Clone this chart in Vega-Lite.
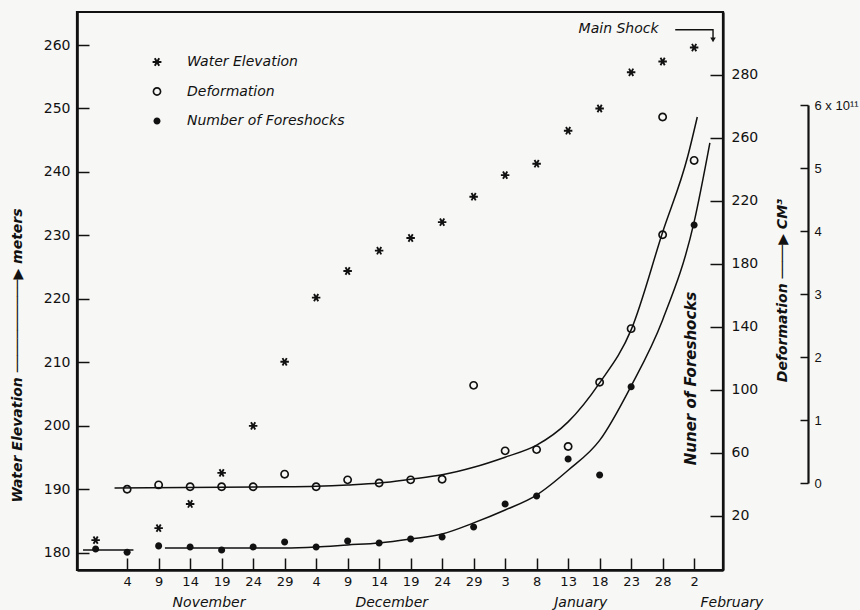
{
  "$schema": "https://vega.github.io/schema/vega-lite/v6.json",
  "autosize": {"type": "none"},
  "padding": {"left": 77, "top": 12, "right": 137, "bottom": 40},
  "width": 646,
  "height": 558,
  "background": "#f7f7f5",
  "config": {
    "view": {"stroke": "#111", "strokeWidth": 2.2},
    "font": "DejaVu Sans",
    "axis": {
      "grid": false,
      "labelOverlap": false,
      "domainColor": "#111",
      "domainWidth": 2.2,
      "tickColor": "#111",
      "tickWidth": 1.5,
      "labelColor": "#111",
      "titleColor": "#111",
      "labelFont": "DejaVu Sans",
      "labelFontSize": 14,
      "titleFont": "DejaVu Sans",
      "titleFontStyle": "italic",
      "titleFontWeight": "bold",
      "titleFontSize": 14
    }
  },
  "datasets": {
    "water": [
      {"date": "1965-10-30", "elev": 182.0},
      {"date": "1965-11-09", "elev": 183.9},
      {"date": "1965-11-14", "elev": 187.7},
      {"date": "1965-11-19", "elev": 192.6},
      {"date": "1965-11-24", "elev": 200.0},
      {"date": "1965-11-29", "elev": 210.1},
      {"date": "1965-12-04", "elev": 220.2},
      {"date": "1965-12-09", "elev": 224.4},
      {"date": "1965-12-14", "elev": 227.6},
      {"date": "1965-12-19", "elev": 229.6},
      {"date": "1965-12-24", "elev": 232.1},
      {"date": "1965-12-29", "elev": 236.1},
      {"date": "1966-01-03", "elev": 239.5},
      {"date": "1966-01-08", "elev": 241.3},
      {"date": "1966-01-13", "elev": 246.5},
      {"date": "1966-01-18", "elev": 250.0},
      {"date": "1966-01-23", "elev": 255.7},
      {"date": "1966-01-28", "elev": 257.4},
      {"date": "1966-02-02", "elev": 259.6}
    ],
    "months": [
      {"date": "1965-11-17", "elev": 172.1, "month": "November"},
      {"date": "1965-12-16", "elev": 172.1, "month": "December"},
      {"date": "1966-01-15", "elev": 172.1, "month": "January"},
      {"date": "1966-02-08", "elev": 172.1, "month": "February"}
    ],
    "mainshock": [
      {"date": "1966-01-28", "elev": 262.5, "label": "Main Shock"}
    ],
    "arrow": [
      {"date": "1966-01-30", "elev": 262.4, "k": 1},
      {"date": "1966-02-05", "elev": 262.4, "k": 2},
      {"date": "1966-02-05", "elev": 261.0, "k": 3}
    ],
    "arrowhead": [
      {"date": "1966-02-05", "elev": 260.8}
    ],
    "deformation": [
      {"date": "1965-11-04", "def": -0.1},
      {"date": "1965-11-09", "def": -0.03},
      {"date": "1965-11-14", "def": -0.06},
      {"date": "1965-11-19", "def": -0.06},
      {"date": "1965-11-24", "def": -0.06},
      {"date": "1965-11-29", "def": 0.14},
      {"date": "1965-12-04", "def": -0.06},
      {"date": "1965-12-09", "def": 0.05},
      {"date": "1965-12-14", "def": 0.0},
      {"date": "1965-12-19", "def": 0.05},
      {"date": "1965-12-24", "def": 0.06},
      {"date": "1965-12-29", "def": 1.55},
      {"date": "1966-01-03", "def": 0.51},
      {"date": "1966-01-08", "def": 0.53},
      {"date": "1966-01-13", "def": 0.58},
      {"date": "1966-01-18", "def": 1.6},
      {"date": "1966-01-23", "def": 2.45},
      {"date": "1966-01-28", "def": 3.94},
      {"date": "1966-01-28", "def": 5.81},
      {"date": "1966-02-02", "def": 5.12}
    ],
    "defcurve": [
      {"date": "1965-11-02", "def": -0.08},
      {"date": "1965-11-29", "def": -0.06},
      {"date": "1965-12-04", "def": -0.05},
      {"date": "1965-12-09", "def": -0.03},
      {"date": "1965-12-14", "def": 0.0},
      {"date": "1965-12-19", "def": 0.06},
      {"date": "1965-12-24", "def": 0.13},
      {"date": "1965-12-29", "def": 0.25},
      {"date": "1966-01-03", "def": 0.41},
      {"date": "1966-01-08", "def": 0.6},
      {"date": "1966-01-13", "def": 0.97},
      {"date": "1966-01-18", "def": 1.59},
      {"date": "1966-01-23", "def": 2.43},
      {"date": "1966-01-28", "def": 3.98},
      {"date": "1966-02-01", "def": 5.19},
      {"date": "1966-02-02T12:00:00Z", "def": 5.81}
    ],
    "foreshocks": [
      {"date": "1965-10-30", "count": -1},
      {"date": "1965-11-04", "count": -3},
      {"date": "1965-11-09", "count": 1},
      {"date": "1965-11-14", "count": 0.3},
      {"date": "1965-11-19", "count": -1.6},
      {"date": "1965-11-24", "count": 0.3},
      {"date": "1965-11-29", "count": 3.5},
      {"date": "1965-12-04", "count": 0.3},
      {"date": "1965-12-09", "count": 4.1},
      {"date": "1965-12-14", "count": 2.9},
      {"date": "1965-12-19", "count": 5.4},
      {"date": "1965-12-24", "count": 6.7},
      {"date": "1965-12-29", "count": 13},
      {"date": "1966-01-03", "count": 27.6},
      {"date": "1966-01-08", "count": 32.7},
      {"date": "1966-01-13", "count": 56.2},
      {"date": "1966-01-18", "count": 46},
      {"date": "1966-01-23", "count": 102},
      {"date": "1966-02-02", "count": 204.8}
    ],
    "focurve": [
      {"date": "1965-10-28", "count": -1.6, "seg": "a"},
      {"date": "1965-11-05", "count": -1.6, "seg": "a"},
      {"date": "1965-11-10", "count": -0.3, "seg": "b"},
      {"date": "1965-11-29", "count": -0.3, "seg": "b"},
      {"date": "1965-12-04", "count": 0.3, "seg": "b"},
      {"date": "1965-12-09", "count": 1.6, "seg": "b"},
      {"date": "1965-12-14", "count": 2.9, "seg": "b"},
      {"date": "1965-12-19", "count": 5.4, "seg": "b"},
      {"date": "1965-12-24", "count": 8.6, "seg": "b"},
      {"date": "1965-12-29", "count": 15.6, "seg": "b"},
      {"date": "1966-01-03", "count": 23.8, "seg": "b"},
      {"date": "1966-01-08", "count": 33.3, "seg": "b"},
      {"date": "1966-01-13", "count": 49, "seg": "b"},
      {"date": "1966-01-18", "count": 68, "seg": "b"},
      {"date": "1966-01-23", "count": 102.5, "seg": "b"},
      {"date": "1966-01-28", "count": 144.5, "seg": "b"},
      {"date": "1966-02-02", "count": 206.7, "seg": "b"},
      {"date": "1966-02-04T12:00:00Z", "count": 256.9, "seg": "b"}
    ]
  },
  "encoding": {
    "x": {
      "field": "date", "type": "temporal",
      "scale": {"type": "utc", "domain": [
        {"year": 1965, "month": 10, "date": 27, "hours": 1, "utc": true},
        {"year": 1966, "month": 2, "date": 6, "hours": 14, "utc": true}
      ]},
      "axis": {
        "orient": "bottom",
        "title": null,
        "values": [
          {"year": 1965, "month": 11, "date": 4, "utc": true},
          {"year": 1965, "month": 11, "date": 9, "utc": true},
          {"year": 1965, "month": 11, "date": 14, "utc": true},
          {"year": 1965, "month": 11, "date": 19, "utc": true},
          {"year": 1965, "month": 11, "date": 24, "utc": true},
          {"year": 1965, "month": 11, "date": 29, "utc": true},
          {"year": 1965, "month": 12, "date": 4, "utc": true},
          {"year": 1965, "month": 12, "date": 9, "utc": true},
          {"year": 1965, "month": 12, "date": 14, "utc": true},
          {"year": 1965, "month": 12, "date": 19, "utc": true},
          {"year": 1965, "month": 12, "date": 24, "utc": true},
          {"year": 1965, "month": 12, "date": 29, "utc": true},
          {"year": 1966, "month": 1, "date": 3, "utc": true},
          {"year": 1966, "month": 1, "date": 8, "utc": true},
          {"year": 1966, "month": 1, "date": 13, "utc": true},
          {"year": 1966, "month": 1, "date": 18, "utc": true},
          {"year": 1966, "month": 1, "date": 23, "utc": true},
          {"year": 1966, "month": 1, "date": 28, "utc": true},
          {"year": 1966, "month": 2, "date": 2, "utc": true}
        ],
        "format": "%-d",
        "labelOverlap": false,
        "tickSize": -12,
        "labelPadding": 17,
        "labelFontSize": 13,
        "domainWidth": 2.5
      }
    }
  },
  "layer": [
    {
      "layer": [
        {
          "data": {"name": "water"},
          "mark": {"type": "point", "filled": true, "color": "#111", "strokeWidth": 0, "size": 72, "opacity": 1},
          "encoding": {
            "y": {
              "field": "elev", "type": "quantitative",
              "scale": {"domain": [177.3, 265.2], "nice": false, "zero": false},
              "axis": {
                "orient": "left",
                "values": [180, 190, 200, 210, 220, 230, 240, 250, 260],
                "tickSize": -12,
                "labelPadding": 19,
                "title": "Water   Elevation  ───────────▶   meters",
                "titleAngle": -90,
                "titleX": -60,
                "titleY": 343,
                "titleAlign": "center",
                "titleBaseline": "middle",
                "domainWidth": 2.6
              }
            },
            "shape": {
              "datum": "Water Elevation",
              "scale": {
                "domain": ["Water Elevation", "Deformation", "Number of Foreshocks"],
                "range": [
                  "M-1,-0.22L1,-0.22L1,0.22L-1,0.22ZM-0.31,-0.976L0.69,0.756L0.31,0.976L-0.69,-0.756ZM-0.69,0.756L0.31,-0.976L0.69,-0.756L-0.31,0.976Z",
                  "M1,0A1,1,0,1,1,-1,0A1,1,0,1,1,1,0ZM0.63,0A0.63,0.63,0,1,0,-0.63,0A0.63,0.63,0,1,0,0.63,0Z",
                  "M0.8,0A0.8,0.8,0,1,1,-0.8,0A0.8,0.8,0,1,1,0.8,0Z"
                ]
              },
              "legend": {
                "orient": "none",
                "legendX": 73,
                "legendY": 43,
                "title": null,
                "padding": 0,
                "labelFont": "DejaVu Sans",
                "labelFontStyle": "italic",
                "labelFontSize": 14,
                "labelColor": "#111",
                "labelOffset": 23,
                "rowPadding": 15.5,
                "symbolSize": 78,
                "symbolFillColor": "#111",
                "symbolStrokeWidth": 0,
                "symbolOpacity": 1
              }
            }
          }
        },
        {
          "data": {"name": "months"},
          "mark": {"type": "text", "font": "DejaVu Sans", "fontStyle": "italic", "fontSize": 14, "color": "#111", "align": "center", "baseline": "middle"},
          "encoding": {
            "y": {"field": "elev", "type": "quantitative"},
            "text": {"field": "month"}
          }
        },
        {
          "data": {"name": "mainshock"},
          "mark": {"type": "text", "font": "DejaVu Sans", "fontStyle": "italic", "fontSize": 14, "color": "#111", "align": "right", "baseline": "middle", "dx": -4},
          "encoding": {
            "y": {"field": "elev", "type": "quantitative"},
            "text": {"field": "label"}
          }
        },
        {
          "data": {"name": "arrow"},
          "mark": {"type": "line", "color": "#111", "strokeWidth": 1.4},
          "encoding": {
            "y": {"field": "elev", "type": "quantitative"},
            "order": {"field": "k", "type": "quantitative"}
          }
        },
        {
          "data": {"name": "arrowhead"},
          "mark": {"type": "point", "shape": "triangle-down", "filled": true, "color": "#111", "size": 30, "opacity": 1},
          "encoding": {
            "y": {"field": "elev", "type": "quantitative"}
          }
        }
      ]
    },
    {
      "layer": [
        {
          "data": {"name": "defcurve"},
          "mark": {"type": "line", "color": "#111", "strokeWidth": 1.5, "interpolate": "monotone"},
          "encoding": {
            "y": {
              "field": "def", "type": "quantitative",
              "scale": {"domain": [0, 6], "range": [471, 93], "nice": false, "zero": false},
              "axis": {
                "orient": "right",
                "offset": 85,
                "values": [0, 1, 2, 3, 4, 5, 6],
                "format": "d",
                "labelExpr": "datum.value == 6 ? '6 x 10¹¹' : datum.label",
                "labelFont": "Liberation Sans",
                "labelFontSize": 13,
                "tickSize": -8,
                "labelPadding": 14,
                "title": "Deformation ────▶ CM³",
                "titleAngle": -90,
                "titleX": -26,
                "titleY": 278,
                "titleAlign": "center",
                "titleBaseline": "middle",
                "domainWidth": 2.2
              }
            }
          }
        },
        {
          "data": {"name": "deformation"},
          "mark": {"type": "point", "filled": true, "color": "#111", "strokeWidth": 0, "size": 80, "opacity": 1},
          "encoding": {
            "y": {"field": "def", "type": "quantitative"},
            "shape": {"datum": "Deformation"}
          }
        }
      ]
    },
    {
      "layer": [
        {
          "data": {"name": "focurve"},
          "mark": {"type": "line", "color": "#111", "strokeWidth": 1.5, "interpolate": "monotone"},
          "encoding": {
            "y": {
              "field": "count", "type": "quantitative",
              "scale": {"domain": [-14.3, 340], "nice": false, "zero": false},
              "axis": {
                "orient": "right",
                "values": [20, 60, 100, 140, 180, 220, 260, 300],
                "labelExpr": "datum.value == 300 ? '280' : datum.label",
                "tickSize": -13,
                "labelPadding": 21,
                "title": "Nuner  of  Foreshocks",
                "titleFontSize": 15,
                "titleAngle": -90,
                "titleX": -33,
                "titleY": 366,
                "titleAlign": "center",
                "titleBaseline": "middle",
                "domainWidth": 2.2
              }
            },
            "detail": {"field": "seg"}
          }
        },
        {
          "data": {"name": "foreshocks"},
          "mark": {"type": "point", "filled": true, "color": "#111", "strokeWidth": 0, "size": 78, "opacity": 1},
          "encoding": {
            "y": {"field": "count", "type": "quantitative"},
            "shape": {"datum": "Number of Foreshocks"}
          }
        }
      ]
    }
  ],
  "resolve": {"scale": {"y": "independent"}, "axis": {"y": "independent"}}
}
